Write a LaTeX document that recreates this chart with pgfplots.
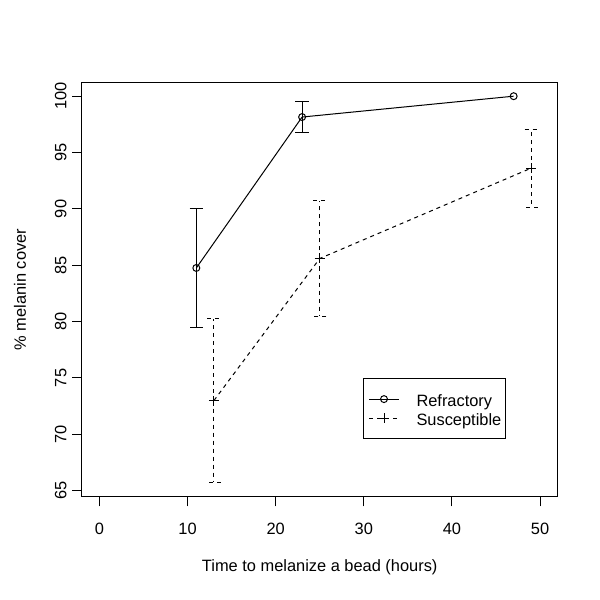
\documentclass[border=0pt]{standalone}
\usepackage{pgfplots}
\pgfplotsset{compat=1.18}
\usepackage{fontspec}
\setmainfont{Liberation Sans}
\begin{document}
\fontsize{12.3}{14}\selectfont
\begin{tikzpicture}
\useasboundingbox (0,0) rectangle (450pt,450pt);
\begin{axis}[
  at={(61.3pt,77.5pt)}, anchor=south west,
  scale only axis, width=357pt, height=310.5pt,
  xmin=-2, xmax=52, ymin=64.47, ymax=101.2,
  xtick={0,10,20,30,40,50}, ytick={65,70,75,80,85,90,95,100},
  tick align=outside, tick pos=left, major tick length=7.2pt,
  axis line style={line width=0.75pt},
  every tick/.style={black, line width=0.75pt},
  /pgf/number format/assume math mode=true,
  ticklabel style={font=\fontsize{12.3}{14}\selectfont, inner sep=0pt},
  xticklabel style={anchor=north},
  xticklabel shift=12.7pt,
  yticklabel={\rotatebox{90}{\pgfmathprintnumber{\tick}}},
  yticklabel style={anchor=east, xshift=-4pt},
  label style={font=\fontsize{12.3}{14}\selectfont},
  every axis x label/.style={at={(axis description cs:0.5,-0.1715)}, anchor=center},
  every axis y label/.style={at={(axis description cs:-0.1296,0.5)}, rotate=90, anchor=center},
  xlabel={Time to melanize a bead (hours)},
  ylabel={\% melanin cover},
  legend style={at={(axis description cs:0.5916,0.286)}, anchor=north west,
    draw=black, line width=0.75pt, inner xsep=3.5pt, inner ysep=8pt,
    font=\fontsize{12.3}{14}\selectfont,
    nodes={inner sep=0pt, text height=12.5pt, text depth=2pt}},
  legend cell align=left,
  legend image code/.code={\draw[#1, mark repeat=2, mark phase=2] plot coordinates {(0pt,0pt)(11.25pt,0pt)(22.5pt,0pt)};
    \path (35.25pt,0pt);},
]
% error bars Refractory
\addplot[black, line width=0.75pt, draw=none, forget plot,
  error bars/.cd, y dir=both, y explicit, error mark=|,
  error bar style={line width=0.75pt, solid},
  error mark options={black, mark size=5pt, line width=0.75pt, solid}]
  coordinates {(11,84.76) +- (0,5.28) (23,98.15) +- (0,1.35)};
% error bars Susceptible
\addplot[black, line width=0.75pt, draw=none, forget plot,
  error bars/.cd, y dir=both, y explicit, error mark=|,
  error bar style={line width=0.75pt, dash pattern=on 3pt off 3pt},
  error mark options={black, mark size=5pt, line width=0.75pt, dash pattern=on 3pt off 3pt}]
  coordinates {(13,73.0) +- (0,7.24) (25,85.6) +- (0,5.14) (49,93.62) +- (0,3.46)};
\addplot[black, line width=0.75pt, mark=o, mark size=2.6pt, mark options={solid}]
  coordinates {(11,84.76) (23,98.15) (47,100)};
\addlegendentry{Refractory\hspace{3.25pt}}
\addplot[black, line width=0.75pt, dash pattern=on 3pt off 3pt, mark=+, mark size=3.75pt, mark options={solid}]
  coordinates {(13,73.0) (25,85.6) (49,93.62)};
\addlegendentry{Susceptible\hspace{3.25pt}}
\end{axis}
\end{tikzpicture}
\end{document}
